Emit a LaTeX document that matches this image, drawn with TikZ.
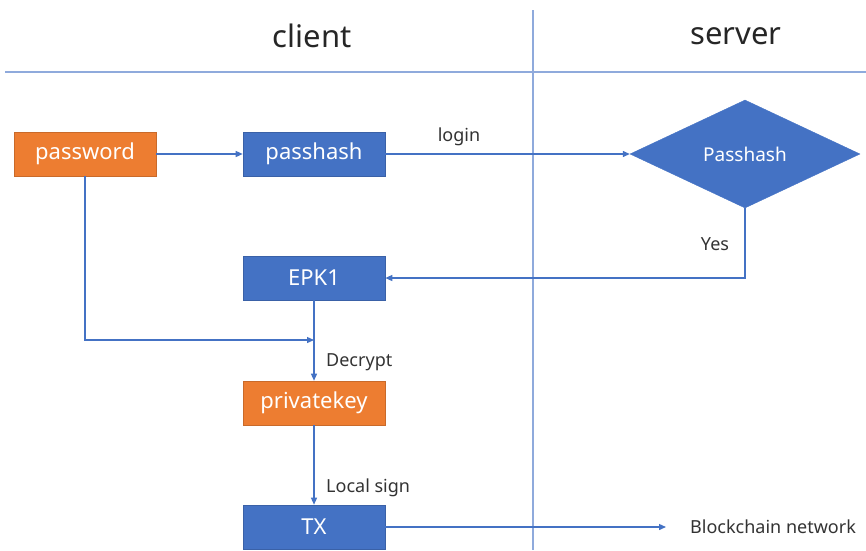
\documentclass[tikz,border=0pt]{standalone}
\usepackage{fontspec}
\setmainfont{Noto Sans}
\usetikzlibrary{shapes.geometric,arrows.meta}
\definecolor{cblue}{HTML}{4472C4}
\definecolor{corange}{HTML}{ED7D31}
\definecolor{cline}{HTML}{8FAADC}
\begin{document}
\begin{tikzpicture}[x=1pt,y=-1pt,
  box/.style={draw=#1!85!black,fill=#1,line width=0.6pt,minimum width=142pt,minimum height=44pt,inner sep=0pt,text=white,font=\fontsize{22}{26}\selectfont},
  conn/.style={draw=cblue,line width=1.3pt,-{Triangle[length=7pt,width=6pt]}},
  lbl/.style={text=black!80,font=\fontsize{18}{21}\selectfont,inner sep=0pt},
  title/.style={text=black!85,font=\fontsize{31}{36}\selectfont,inner sep=0pt}]
\useasboundingbox (0,0) rectangle (866,550);
% swimlane lines
\draw[cline,line width=1.2pt] (533,10) -- (533,550);
\draw[cline,line width=1.5pt] (5,72) -- (866,72);
\node[title] (client) at (312,36) {client};
\node[title] (server) at (736,36) {server};
% nodes
\node[box=corange] (pw) at (85,154) {password};
\node[box=cblue] (ph) at (314,154) {passhash};
\node[diamond,fill=cblue,draw=cblue,aspect=2.13,minimum width=230pt,minimum height=108pt,inner sep=0pt,text=white,font=\fontsize{19}{23}\selectfont] (dia) at (745,154) {Passhash};
\node[box=cblue] (epk) at (314,278) {EPK1};
\node[box=corange] (pk) at (314,403) {privatekey};
\node[box=cblue] (tx) at (314,527) {TX};
\coordinate (merge) at (314,340);
\coordinate (bc) at (666,527);
\node[lbl,anchor=west] (bcl) at (690,527) {Blockchain network};
\node[lbl] (login) at (459,137) {login};
\node[lbl] (yes) at (715,244) {Yes};
\node[lbl,anchor=west] (dec) at (326,362) {Decrypt};
\node[lbl,anchor=west] (ls) at (326,488) {Local sign};
% connectors
\draw[conn] (pw) -- (ph);
\draw[conn] (ph) -- (dia.west);
\draw[conn] (dia.south) |- (epk.east);
\draw[conn] (pw.south) |- (merge);
\draw[conn] (epk) -- (pk);
\draw[conn] (pk) -- (tx);
\draw[conn] (tx) -- (bc);
\end{tikzpicture}
\end{document}
